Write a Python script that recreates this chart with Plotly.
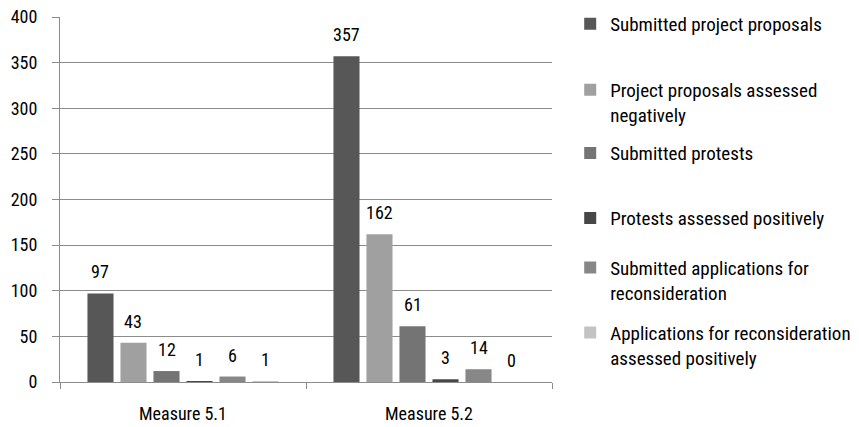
import plotly.graph_objects as go

# Categories and series
measures = ["Measure 5.1", "Measure 5.2"]
series_names = [
    "Submitted project proposals",
    "Project proposals assessed<br>negatively",
    "Submitted protests",
    "Protests assessed positively",
    "Submitted applications for<br>reconsideration",
    "Applications for reconsideration<br>assessed positively",
]
submitted_proposals = [97, 357]
proposals_negative = [43, 162]
submitted_protests = [12, 61]
protests_positive = [1, 3]
submitted_reconsideration = [6, 14]
reconsideration_positive = [1, 0]
y_ticks = [0, 50, 100, 150, 200, 250, 300, 350, 400]

series_values = [
    submitted_proposals,
    proposals_negative,
    submitted_protests,
    protests_positive,
    submitted_reconsideration,
    reconsideration_positive,
]
colors = ["#575757", "#a0a0a0", "#747474", "#474747", "#878787", "#c3c3c3"]

FONT = "Roboto Condensed, Liberation Sans Narrow, Roboto, sans-serif"
TXT = "#000000"
BARGAP = 0.195
GROUPGAP = 0.21

# vertical centre of each legend entry, as a fraction of the plot height
legend_y = [0.981, 0.766, 0.627, 0.449, 0.279, 0.101]

fig = go.Figure()
for i, (name, vals) in enumerate(zip(series_names, series_values)):
    fig.add_trace(go.Bar(
        x=measures, y=vals, name=name,
        marker=dict(color=colors[i], line=dict(width=0)),
        legend="legend" if i == 0 else f"legend{i + 1}",
        hoverinfo="skip",
    ))

# Value labels above each bar, at the bar centres of the grouped layout
n = len(series_values)
slot = (1 - BARGAP) / n
for i, vals in enumerate(series_values):
    for c, v in enumerate(vals):
        fig.add_annotation(
            x=c - (1 - BARGAP) / 2 + slot * (i + 0.5), y=v,
            xref="x", yref="y", text=str(v), showarrow=False,
            yanchor="bottom", yshift=9,
            font=dict(family=FONT, size=18, color=TXT),
        )

legend_style = dict(
    x=1.037, xanchor="left", yanchor="middle",
    font=dict(family=FONT, size=19, color=TXT),
    valign="top", bgcolor="rgba(0,0,0,0)", borderwidth=0,
)
legends = {}
for i, ly in enumerate(legend_y):
    key = "legend" if i == 0 else f"legend{i + 1}"
    legends[key] = dict(legend_style, y=ly)

fig.update_layout(
    width=859, height=427,
    margin=dict(l=60, r=307, t=17, b=45, autoexpand=False),
    paper_bgcolor="white", plot_bgcolor="white",
    barmode="group", bargap=BARGAP, bargroupgap=GROUPGAP,
    font=dict(family=FONT, size=18, color=TXT),
    showlegend=True,
    xaxis=dict(
        type="category", range=[-0.5, 1.5], automargin=False,
        showline=True, linecolor="#8c8c8c", linewidth=1,
        ticks="outside", tickson="boundaries", ticklen=6, tickcolor="#8c8c8c",
        ticklabelstandoff=15,
        showgrid=False, zeroline=False,
        tickfont=dict(family=FONT, size=18, color=TXT),
    ),
    yaxis=dict(
        range=[0, 400], tickvals=y_ticks, automargin=False,
        showline=True, linecolor="#8c8c8c", linewidth=1,
        ticks="outside", ticklen=7, tickcolor="#8c8c8c",
        showgrid=True, gridcolor="#8c8c8c", gridwidth=1,
        zeroline=False,
        tickfont=dict(family=FONT, size=18, color=TXT),
        ticklabelstandoff=11,
    ),
    **legends,
)

fig.write_html("out.html")
